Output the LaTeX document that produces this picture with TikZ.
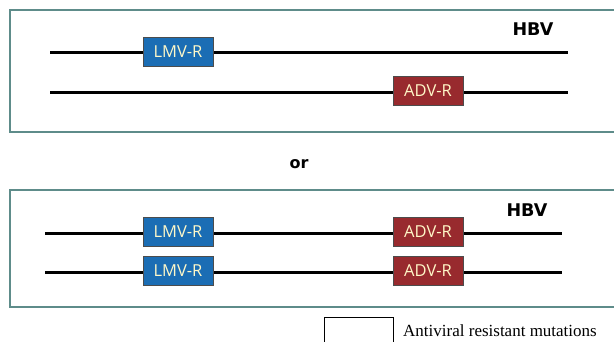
\documentclass[tikz,border=0pt]{standalone}
\usepackage{fontspec}
\setmainfont{Liberation Serif}
\newfontfamily\boxfont{Open Sans}
\newfontfamily\labelfont{DejaVu Sans}
\definecolor{frameteal}{HTML}{5E8C8A}
\definecolor{lmvblue}{HTML}{1B6DB4}
\definecolor{advred}{HTML}{982A2E}
\definecolor{boxtext}{HTML}{FFF8C8}
\begin{document}
\begin{tikzpicture}[x=1pt,y=-1pt,
  panel/.style={draw=frameteal,line width=1.5pt},
  genome/.style={draw=black,line width=3pt},
  mutbox/.style={draw=black!70,line width=0.8pt,minimum width=70pt,minimum height=29pt,
    inner sep=0pt,text=boxtext,font=\boxfont\fontsize{16.5}{16.5}\selectfont},
  lmv/.style={mutbox,fill=lmvblue},
  adv/.style={mutbox,fill=advred},
  tag/.style={font=\labelfont\bfseries\fontsize{17.5}{17.5}\selectfont,inner sep=0pt}]
\useasboundingbox (0,0) rectangle (614,342);
\clip (0,0) rectangle (614,342);
% first scenario: mutations on separate genomes
\draw[panel] (10,10) rectangle (630,132);
\node[tag] (hbv1) at (533,29) {HBV};
\coordinate (a1) at (50,53);  \coordinate (b1) at (568,53);
\coordinate (a2) at (50,93);  \coordinate (b2) at (568,93);
\draw[genome] (a1) -- (b1);
\draw[genome] (a2) -- (b2);
\node[lmv] (l1) at (178,51.5) {LMV-R};
\node[adv] (d1) at (428,90.5) {ADV-R};
\node[tag,font=\labelfont\bfseries\fontsize{16}{16}\selectfont] (or) at (299,164) {or};
% second scenario: both mutations on the same genome
\draw[panel] (10,190) rectangle (630,307);
\node[tag] (hbv2) at (527,210) {HBV};
\coordinate (c1) at (45,234);  \coordinate (e1) at (562,234);
\coordinate (c2) at (45,273);  \coordinate (e2) at (562,273);
\draw[genome] (c1) -- (e1);
\draw[genome] (c2) -- (e2);
\node[lmv] (l2) at (178,231.5) {LMV-R};
\node[adv] (d2) at (428,231.5) {ADV-R};
\node[lmv] (l3) at (178,271) {LMV-R};
\node[adv] (d3) at (428,271) {ADV-R};
% legend
\draw[black,line width=0.8pt] (324,350) -- (324,317.5) -- (393,317.5) -- (393,350);
\node[anchor=base west,inner sep=0pt,font=\fontsize{17}{17}\selectfont] (legend) at (403,336.5) {Antiviral resistant mutations};
\end{tikzpicture}
\end{document}
